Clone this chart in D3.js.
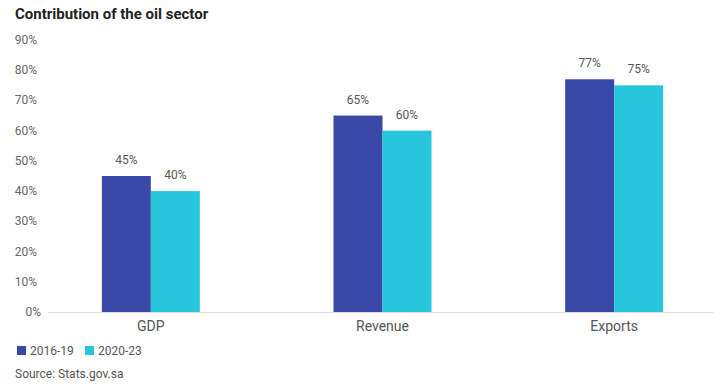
<!DOCTYPE html>
<html>
<head>
<meta charset="utf-8">
<script src="https://cdn.jsdelivr.net/npm/d3@7"></script>
<style>
  body { margin: 0; background: #fff; font-family: Roboto, "Noto Sans", sans-serif; }
  svg text { font-family: Roboto, "Noto Sans", sans-serif; }
</style>
</head>
<body>
<svg width="714" height="388"></svg>
<script>
const categories = ["GDP", "Revenue", "Exports"];
const seriesNames = ["2016-19", "2020-23"];
const values2016 = [45, 65, 77];
const values2020 = [40, 60, 75];
const yTicks = [0, 10, 20, 30, 40, 50, 60, 70, 80, 90];
const colors = ["#3a48a8", "#27c6dc"];

const svg = d3.select("svg");

const data = categories.map((c, i) => ({ cat: c, vals: [values2016[i], values2020[i]] }));

const x0 = d3.scaleBand()
  .domain(categories)
  .range([35, 730])
  .padding(0);

const x1 = d3.scaleBand()
  .domain(seriesNames)
  .range([x0.bandwidth() / 2 - 49, x0.bandwidth() / 2 + 49])
  .padding(0);

const y = d3.scaleLinear()
  .domain([0, 90])
  .range([312, 40]);

// title
svg.append("text")
  .attr("x", 15)
  .attr("y", 19)
  .style("font-size", "15px")
  .style("font-weight", "bold")
  .style("fill", "#222")
  .text("Contribution of the oil sector");

// y axis labels
svg.append("g")
  .selectAll("text")
  .data(yTicks)
  .enter().append("text")
  .attr("x", d => d === 0 ? 41 : 37)
  .attr("y", d => y(d) + 4)
  .attr("text-anchor", "end")
  .style("font-size", "12px")
  .style("fill", "#666")
  .text(d => d + "%");

// baseline
svg.append("line")
  .attr("x1", 48)
  .attr("x2", 714)
  .attr("y1", y(0) + 0.5)
  .attr("y2", y(0) + 0.5)
  .style("stroke", "#ddd");

const groups = svg.append("g")
  .selectAll("g")
  .data(data)
  .enter().append("g")
  .attr("transform", d => "translate(" + x0(d.cat) + ",0)");

groups.selectAll("rect")
  .data(d => d.vals.map((v, i) => ({ key: seriesNames[i], v: v, i: i })))
  .enter().append("rect")
  .attr("x", d => x1(d.key))
  .attr("y", d => y(d.v))
  .attr("width", x1.bandwidth())
  .attr("height", d => y(0) - y(d.v))
  .style("fill", d => colors[d.i]);

groups.selectAll(".lbl")
  .data(d => d.vals.map((v, i) => ({ key: seriesNames[i], v: v })))
  .enter().append("text")
  .attr("class", "lbl")
  .attr("x", d => x1(d.key) + x1.bandwidth() / 2)
  .attr("y", d => y(d.v) - 12)
  .attr("text-anchor", "middle")
  .style("font-size", "12px")
  .style("fill", "#555")
  .text(d => d.v + "%");

// category labels
svg.append("g")
  .selectAll("text")
  .data(categories)
  .enter().append("text")
  .attr("x", d => x0(d) + x0.bandwidth() / 2)
  .attr("y", 331)
  .attr("text-anchor", "middle")
  .style("font-size", "14px")
  .style("fill", "#555")
  .text(d => d);

// legend
const legend = svg.append("g")
  .selectAll("g")
  .data(seriesNames)
  .enter().append("g")
  .attr("transform", (d, i) => "translate(" + (17 + i * 68) + ",346)");

legend.append("rect")
  .attr("width", 9)
  .attr("height", 9)
  .style("fill", (d, i) => colors[i]);

legend.append("text")
  .attr("x", 13)
  .attr("y", 9)
  .style("font-size", "12px")
  .style("fill", "#555")
  .text(d => d);

svg.append("text")
  .attr("x", 15)
  .attr("y", 378)
  .style("font-size", "12px")
  .style("fill", "#555")
  .text("Source: Stats.gov.sa");
</script>
</body>
</html>
